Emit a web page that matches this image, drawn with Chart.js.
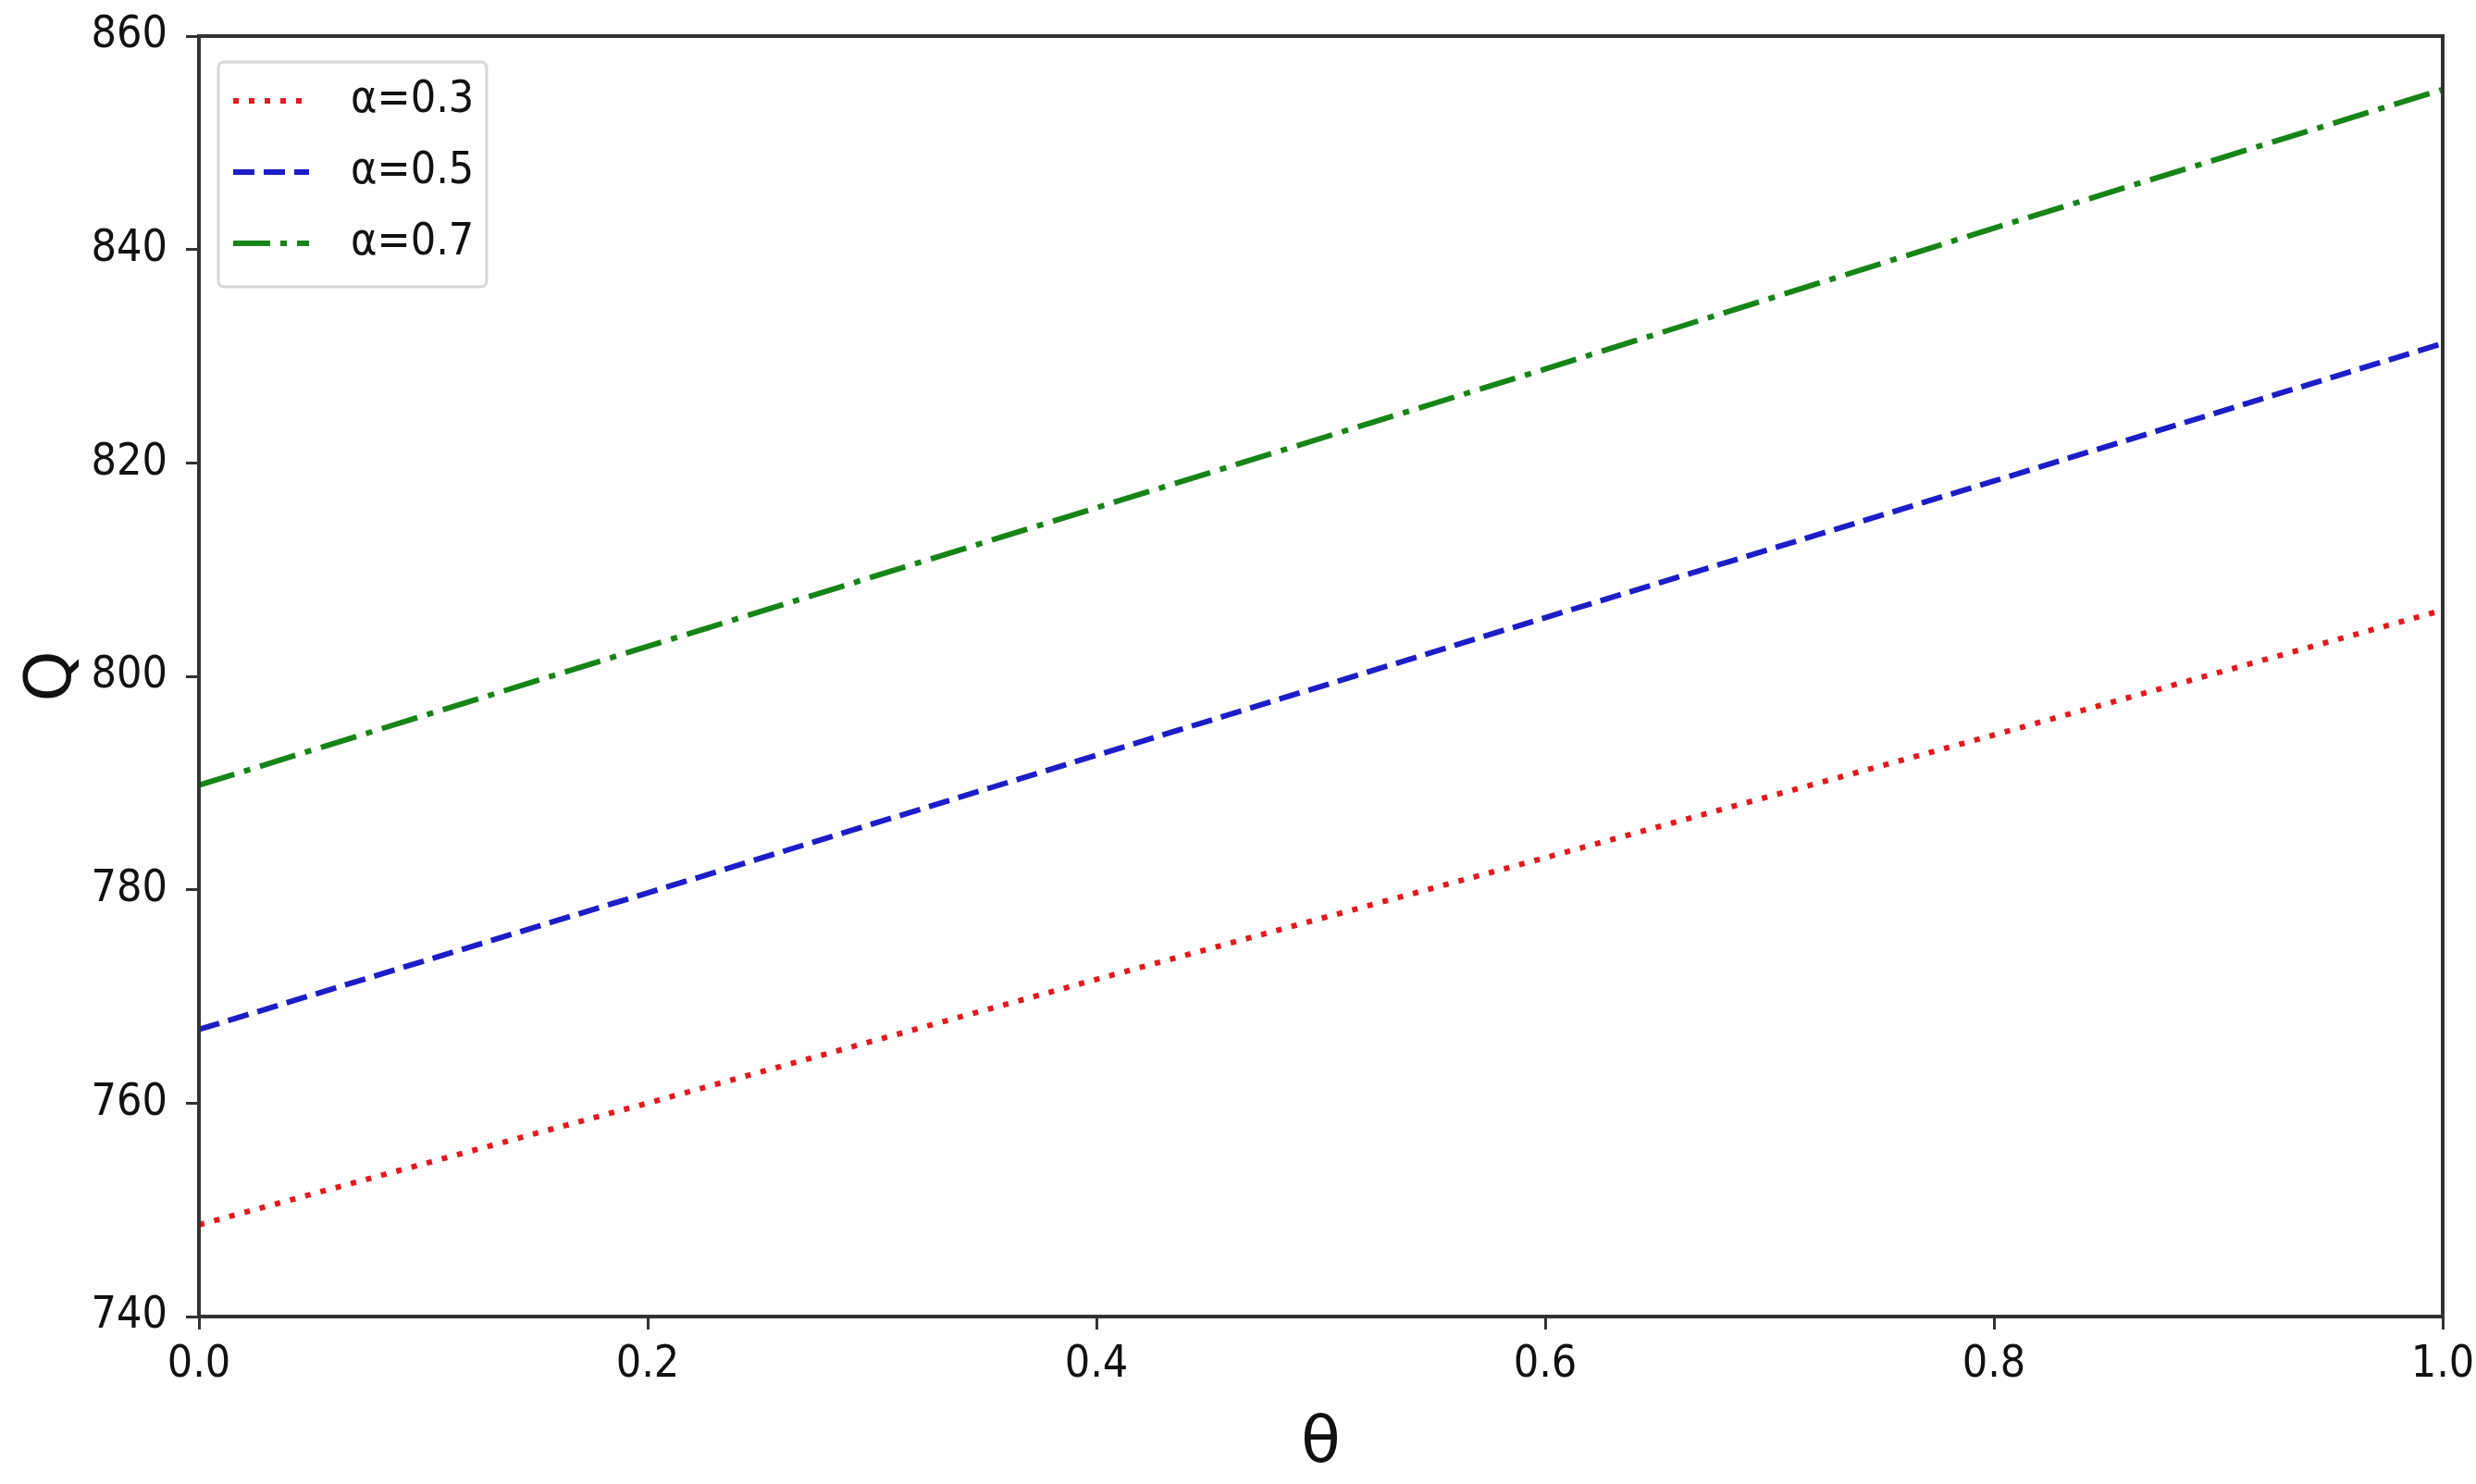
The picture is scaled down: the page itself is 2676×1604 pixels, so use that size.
<!DOCTYPE html>
<html>
<head>
<meta charset="utf-8">
<script src="https://cdn.jsdelivr.net/npm/chart.js@4.4.1/dist/chart.umd.min.js"></script>
<style>
  html, body { margin: 0; padding: 0; background: #fff; }
  #wrap { width: 2676px; height: 1604px; }
</style>
</head>
<body>
<div id="wrap"><canvas id="myChart" width="2676" height="1604"></canvas></div>
<script>
// values
const thetas = [0.0, 0.2, 0.4, 0.6, 0.8, 1.0];
const q03 = [748.6, 760.0, 771.6, 783.0, 794.5, 806.2];
const q05 = [766.9, 779.7, 792.6, 805.5, 818.3, 831.2];
const q07 = [789.8, 802.8, 815.8, 828.8, 842.0, 855.0];
const seriesLabels = ['α=0.3', 'α=0.5', 'α=0.7'];
const yTicks = [740, 760, 780, 800, 820, 840, 860];
const xTicks = [0.0, 0.2, 0.4, 0.6, 0.8, 1.0];

const tickFont = '"Liberation Sans Narrow", "DejaVu Sans Condensed", sans-serif';

function pts(ys) {
  return thetas.map((t, i) => ({ x: t, y: ys[i] }));
}

// box around the plot + legend in upper-left, matplotlib style
const framePlugin = {
  id: 'frame',
  afterDraw(chart) {
    const ctx = chart.ctx;
    const a = chart.chartArea;
    ctx.save();
    ctx.strokeStyle = '#333';
    ctx.lineWidth = 4;
    ctx.strokeRect(a.left, a.top, a.right - a.left, a.bottom - a.top);

    // legend box
    const bx = a.left + 21, by = a.top + 28, bw = 290, bh = 243;
    ctx.fillStyle = 'rgba(255,255,255,0.9)';
    ctx.strokeStyle = '#d6d6d6';
    ctx.lineWidth = 3;
    ctx.beginPath();
    ctx.roundRect(bx, by, bw, bh, 6);
    ctx.fill();
    ctx.stroke();

    chart.data.datasets.forEach((ds, i) => {
      const y = by + 42 + i * 77;
      ctx.strokeStyle = ds.borderColor;
      ctx.lineWidth = ds.borderWidth;
      ctx.setLineDash(ds.borderDash);
      ctx.beginPath();
      ctx.moveTo(bx + 16, y);
      ctx.lineTo(bx + 98, y);
      ctx.stroke();
      ctx.setLineDash([]);
      ctx.fillStyle = '#111';
      ctx.font = '48px ' + tickFont;
      ctx.textBaseline = 'middle';
      ctx.textAlign = 'left';
      ctx.fillText(ds.label, bx + 143, y);
    });
    ctx.restore();
  }
};

const ctx = document.getElementById('myChart');

new Chart(ctx, {
  type: 'line',
  data: {
    datasets: [
      { label: seriesLabels[0], data: pts(q03), borderColor: '#e3191e', borderWidth: 6, borderDash: [6, 11] },
      { label: seriesLabels[1], data: pts(q05), borderColor: '#1d1dc8', borderWidth: 6, borderDash: [23, 10] },
      { label: seriesLabels[2], data: pts(q07), borderColor: '#178417', borderWidth: 6, borderDash: [40, 11, 7, 11] }
    ]
  },
  options: {
    responsive: false,
    animation: false,
    elements: { point: { radius: 0 }, line: { tension: 0, borderCapStyle: 'butt' } },
    layout: { padding: { top: 39, right: 36, left: 0, bottom: 0 } },
    plugins: {
      legend: { display: false },
      tooltip: { enabled: false }
    },
    scales: {
      x: {
        type: 'linear',
        min: 0, max: 1,
        afterBuildTicks(s) { s.ticks = xTicks.map(v => ({ value: v })); },
        afterFit(s) { s.height = 181; s.paddingLeft = 0; s.paddingRight = 0; },
        grid: { drawOnChartArea: false, drawTicks: true, tickLength: 14, color: '#333', lineWidth: 3 },
        border: { display: false },
        ticks: {
          color: '#111',
          font: { family: tickFont, size: 48 },
          padding: 10,
          maxRotation: 0,
          callback: v => v.toFixed(1)
        },
        title: {
          display: true,
          text: 'θ',
          color: '#111',
          font: { family: 'DejaVu Sans', size: 70 },
          padding: { top: 0, bottom: 0 }
        }
      },
      y: {
        type: 'linear',
        min: 740, max: 860,
        afterBuildTicks(s) { s.ticks = yTicks.map(v => ({ value: v })); },
        afterFit(s) { s.width = 215; s.paddingTop = 0; s.paddingBottom = 0; },
        grid: { drawOnChartArea: false, drawTicks: true, tickLength: 14, color: '#333', lineWidth: 3 },
        border: { display: false },
        ticks: {
          color: '#111',
          font: { family: tickFont, size: 48 },
          padding: 20
        },
        title: {
          display: true,
          text: 'Q',
          color: '#111',
          font: { family: 'DejaVu Sans', size: 70 },
          padding: { top: 16, bottom: 0 }
        }
      }
    }
  },
  plugins: [framePlugin]
});
</script>
</body>
</html>
